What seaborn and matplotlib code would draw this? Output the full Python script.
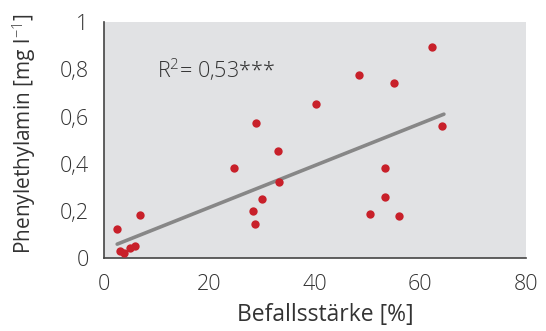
import numpy as np
import pandas as pd
import matplotlib
matplotlib.use('Agg')
import matplotlib.pyplot as plt
from matplotlib.ticker import FuncFormatter
import seaborn as sns

# Daten
befall = [2.5, 3.0, 3.8, 4.9, 5.9, 6.8, 24.6, 28.2, 28.6, 28.8, 30.0, 33.1,
          33.3, 40.2, 48.3, 55.0, 62.3, 64.2, 53.3, 53.3, 50.4, 55.9]
phenyl = [0.125, 0.032, 0.021, 0.042, 0.053, 0.182, 0.382, 0.199, 0.145, 0.571,
          0.249, 0.455, 0.321, 0.652, 0.774, 0.744, 0.896, 0.558, 0.382, 0.259,
          0.189, 0.178]
trend_x = [2.5, 64.5]
trend_y = [0.060, 0.610]
r2_label = "R$^{2}$= 0,53***"

sns.set_style("white")
plt.rcParams['font.family'] = ['Open Sans', 'DejaVu Sans']
plt.rcParams['font.weight'] = 'light'
plt.rcParams['mathtext.fontset'] = 'custom'
plt.rcParams['mathtext.rm'] = 'Open Sans:light'
plt.rcParams['mathtext.it'] = 'Open Sans:italic'

TXT = "#333333"
df = pd.DataFrame({"Befallsstärke": befall, "Phenylethylamin": phenyl})

fig = plt.figure(figsize=(5.46, 3.31), dpi=100)
ax = fig.add_axes([0.1905, 0.2196, 0.9626 - 0.1905, 0.9335 - 0.2196])
ax.set_facecolor("#e1e2e4")

sns.lineplot(x=trend_x, y=trend_y, ax=ax, color="#878787", linewidth=2.6, zorder=2)
sns.scatterplot(data=df, x="Befallsstärke", y="Phenylethylamin", ax=ax,
                color="#c8202a", s=36, linewidth=0, zorder=3)

ax.text(10.0, 0.80, r2_label, fontsize=15.5, color=TXT, va='center', ha='left')

ax.set_xlim(0, 80)
ax.set_ylim(0, 1)
ax.set_xticks([0, 20, 40, 60, 80])
ax.set_yticks([0, 0.2, 0.4, 0.6, 0.8, 1.0])
fmt = FuncFormatter(lambda v, p: f"{v:g}".replace(".", ","))
ax.xaxis.set_major_formatter(fmt)
ax.yaxis.set_major_formatter(fmt)

for s in ["top", "right"]:
    ax.spines[s].set_visible(False)
for s in ["left", "bottom"]:
    ax.spines[s].set_color("#444444")
    ax.spines[s].set_linewidth(1.2)

ax.tick_params(axis='both', direction='out', length=5, width=1.2, colors="#444444",
               labelcolor=TXT, labelsize=15.5, pad=6)
ax.set_xlabel("Befallsstärke [%]", fontsize=16.5, color=TXT)
ax.set_ylabel("Phenylethylamin [mg l$^{-1}$]", fontsize=15, color=TXT)
ax.xaxis.set_label_coords(0.524, -0.19)
ax.yaxis.set_label_coords(-0.155, 0.525)

fig.savefig("out.png", dpi=100)
